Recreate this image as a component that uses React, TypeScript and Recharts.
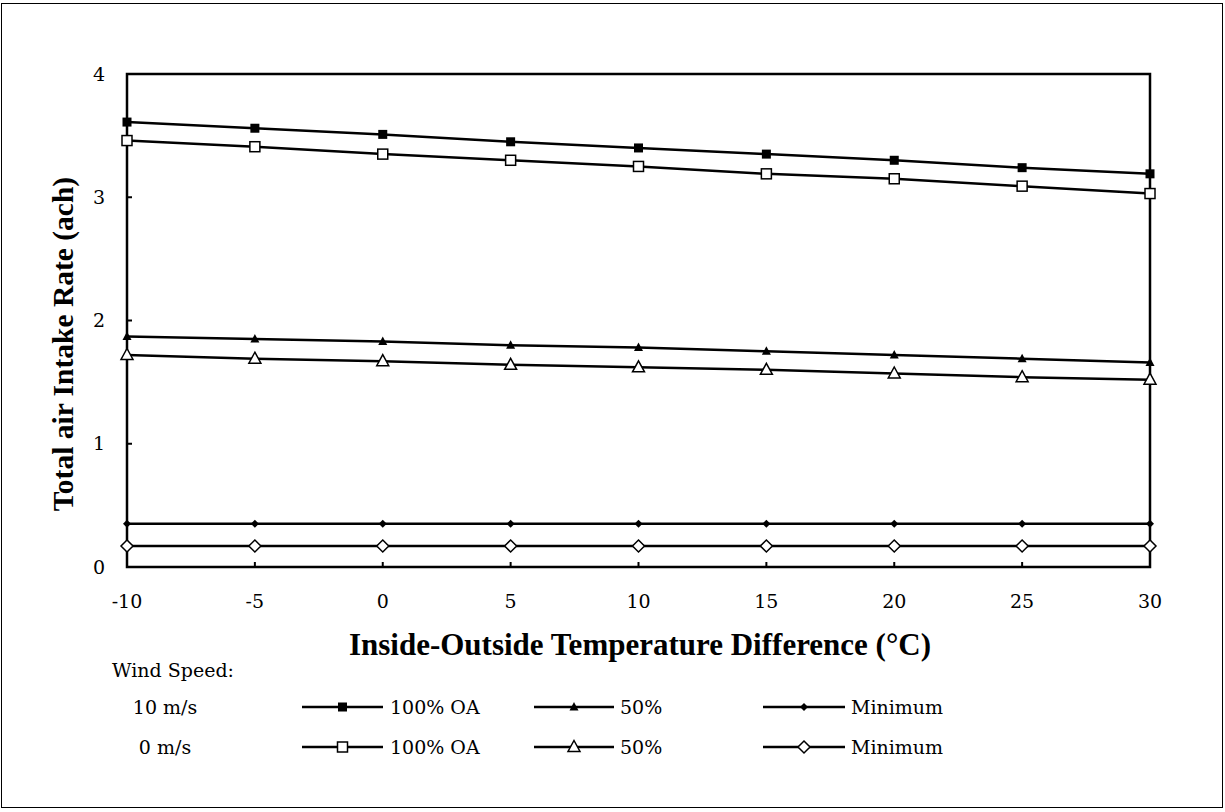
import React from "react";
import { LineChart, Line, XAxis, YAxis, ReferenceArea } from "recharts";

// temperature difference (°C)
const tempDiff = [-10, -5, 0, 5, 10, 15, 20, 25, 30];

// total air intake rate (ach)
const oa100Wind10 = [3.61, 3.56, 3.51, 3.45, 3.40, 3.35, 3.30, 3.24, 3.19];
const oa100Wind0 = [3.46, 3.41, 3.35, 3.30, 3.25, 3.19, 3.15, 3.09, 3.03];
const half50Wind10 = [1.87, 1.85, 1.83, 1.80, 1.78, 1.75, 1.72, 1.69, 1.66];
const half50Wind0 = [1.72, 1.69, 1.67, 1.64, 1.62, 1.60, 1.57, 1.54, 1.52];
const minWind10 = [0.35, 0.35, 0.35, 0.35, 0.35, 0.35, 0.35, 0.35, 0.35];
const minWind0 = [0.17, 0.17, 0.17, 0.17, 0.17, 0.17, 0.17, 0.17, 0.17];

const xTicks = [-10, -5, 0, 5, 10, 15, 20, 25, 30];
const yTicks = [0, 1, 2, 3, 4];

const BOLD_FONT = "'Liberation Serif', serif";
const FONT = "'DejaVu Serif', serif";

const data = tempDiff.map((t, i) => ({
  t,
  oa100w10: oa100Wind10[i],
  oa100w0: oa100Wind0[i],
  p50w10: half50Wind10[i],
  p50w0: half50Wind0[i],
  minw10: minWind10[i],
  minw0: minWind0[i],
}));

type Shape = "sq" | "osq" | "tri" | "otri" | "dia" | "odia";

function Marker({ cx, cy, shape }: { cx: number; cy: number; shape: Shape }) {
  switch (shape) {
    case "sq":
      return <rect x={cx - 4.5} y={cy - 4.5} width={9} height={9} fill="#000" />;
    case "osq":
      return <rect x={cx - 5} y={cy - 5} width={10} height={10} fill="#fff" stroke="#000" strokeWidth={1.5} />;
    case "tri":
      return <polygon points={`${cx},${cy - 5} ${cx + 4.5},${cy + 3.5} ${cx - 4.5},${cy + 3.5}`} fill="#000" />;
    case "otri":
      return (
        <polygon
          points={`${cx},${cy - 6.5} ${cx + 6},${cy + 4.5} ${cx - 6},${cy + 4.5}`}
          fill="#fff"
          stroke="#000"
          strokeWidth={1.5}
        />
      );
    case "dia":
      return <polygon points={`${cx},${cy - 4} ${cx + 4},${cy} ${cx},${cy + 4} ${cx - 4},${cy}`} fill="#000" />;
    default:
      return (
        <polygon
          points={`${cx},${cy - 6} ${cx + 6},${cy} ${cx},${cy + 6} ${cx - 6},${cy}`}
          fill="#fff"
          stroke="#000"
          strokeWidth={1.5}
        />
      );
  }
}

const dotFor = (shape: Shape) => (props: any) =>
  <Marker key={`${shape}-${props.index}`} cx={props.cx} cy={props.cy} shape={shape} />;

const series: { key: string; shape: Shape }[] = [
  { key: "oa100w10", shape: "sq" },
  { key: "oa100w0", shape: "osq" },
  { key: "p50w10", shape: "tri" },
  { key: "p50w0", shape: "otri" },
  { key: "minw10", shape: "dia" },
  { key: "minw0", shape: "odia" },
];

function Sample({ shape, width }: { shape: Shape; width: number }) {
  return (
    <svg width={width} height={20} style={{ display: "block" }}>
      <line x1={0} y1={10} x2={width} y2={10} stroke="#000" strokeWidth={2.5} />
      <Marker cx={width / 2} cy={10} shape={shape} />
    </svg>
  );
}

const legendCols = [
  { x: 302, w: 81, tx: 390, label: "100% OA", shapes: ["sq", "osq"] as Shape[] },
  { x: 534, w: 80, tx: 620, label: "50%", shapes: ["tri", "otri"] as Shape[] },
  { x: 763, w: 82, tx: 851, label: "Minimum", shapes: ["dia", "odia"] as Shape[] },
];
const legendRows = [
  { y: 707, label: "10 m/s" },
  { y: 747, label: "0 m/s" },
];

const textStyle: React.CSSProperties = {
  position: "absolute",
  fontFamily: FONT,
  fontSize: 19,
  lineHeight: "24px",
  color: "#000",
  whiteSpace: "nowrap",
};

export default function App() {
  return (
    <div style={{ position: "absolute", left: 0, top: 0, width: 1225, height: 812, background: "#fff" }}>
      <div
        style={{
          position: "absolute",
          left: 1,
          top: 3,
          width: 1220,
          height: 803,
          border: "1.5px solid #000",
        }}
      />
      <LineChart
        width={1225}
        height={812}
        data={data}
        margin={{ top: 74, right: 75, bottom: 215, left: 67 }}
        style={{ position: "absolute", left: 0, top: 0 }}
      >
        <XAxis
          dataKey="t"
          type="number"
          domain={[-10, 30]}
          ticks={xTicks}
          height={30}
          axisLine={false}
          tickSize={-5}
          tickMargin={33}
          tickLine={{ stroke: "#000", strokeWidth: 2 }}
          tick={{ fill: "#000", fontSize: 19, fontFamily: FONT }}
          label={{
            content: () => (
              <text x={640} y={655} textAnchor="middle" fontFamily={BOLD_FONT} fontSize={31} fontWeight="bold" fill="#000">
                Inside-Outside Temperature Difference (°C)
              </text>
            ),
          }}
        />
        <YAxis
          type="number"
          domain={[0, 4]}
          ticks={yTicks}
          width={60}
          axisLine={false}
          tickSize={-5}
          tickMargin={27}
          tickLine={{ stroke: "#000", strokeWidth: 2 }}
          tick={{ fill: "#000", fontSize: 19, fontFamily: FONT }}
          label={{
            content: () => (
              <text
                transform="translate(73,344) rotate(-90)"
                textAnchor="middle"
                fontFamily={BOLD_FONT}
                fontSize={29.5}
                fontWeight="bold"
                fill="#000"
              >
                Total air Intake Rate (ach)
              </text>
            ),
          }}
        />
        <ReferenceArea x1={-10} x2={30} y1={0} y2={4} fill="none" stroke="#000" strokeWidth={2.5} ifOverflow="visible" />
        {series.map((s) => (
          <Line
            key={s.key}
            dataKey={s.key}
            stroke="#000"
            strokeWidth={2.5}
            dot={dotFor(s.shape)}
            activeDot={false}
            isAnimationActive={false}
          />
        ))}
      </LineChart>

      <div style={{ ...textStyle, left: 112, top: 658 }}>Wind Speed:</div>
      {legendRows.map((r, ri) => (
        <React.Fragment key={r.label}>
          <div style={{ ...textStyle, left: 115, width: 100, textAlign: "center", top: r.y - 12 }}>{r.label}</div>
          {legendCols.map((c) => (
            <React.Fragment key={c.label + ri}>
              <div style={{ position: "absolute", left: c.x, top: r.y - 10 }}>
                <Sample shape={c.shapes[ri]} width={c.w} />
              </div>
              <div style={{ ...textStyle, left: c.tx, top: r.y - 12 }}>{c.label}</div>
            </React.Fragment>
          ))}
        </React.Fragment>
      ))}
    </div>
  );
}
